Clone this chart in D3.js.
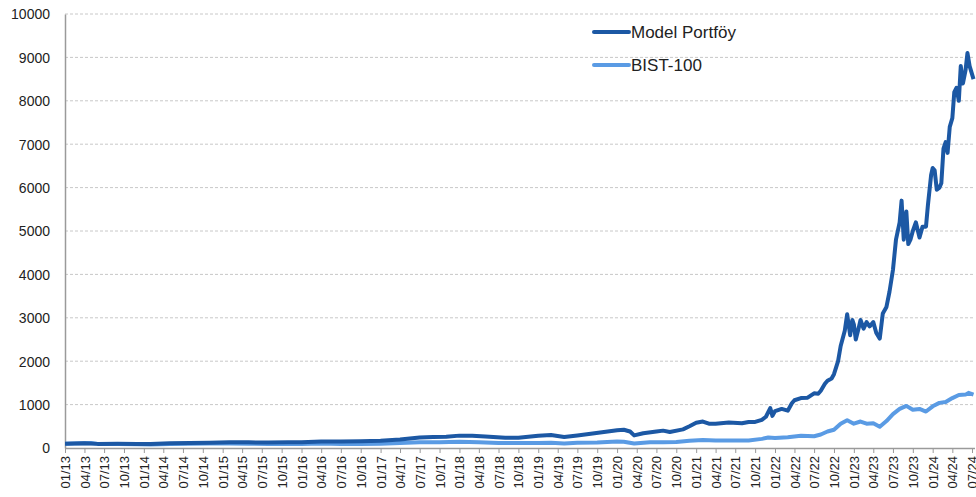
<!DOCTYPE html>
<html>
<head>
<meta charset="utf-8">
<script src="https://cdn.jsdelivr.net/npm/d3@7"></script>
<style>
  body { margin: 0; background: #fff; }
  text { font-family: "Liberation Sans", Arial, sans-serif; fill: #222; }
</style>
</head>
<body>
<div id="main"></div>
<script>
  // model portfolio
  var modelDates = ["2013-01-01","2013-04-01","2013-06-01","2013-09-01","2013-12-01","2014-02-01","2014-05-01","2014-08-01","2014-11-01",
    "2015-02-01","2015-05-01","2015-08-01","2015-11-01","2016-01-01","2016-04-01","2016-07-01","2016-10-01","2017-01-01","2017-04-01",
    "2017-07-01","2017-09-01","2017-11-01","2018-01-01","2018-03-01","2018-05-01","2018-08-01","2018-10-01","2019-01-01","2019-03-01",
    "2019-05-01","2019-07-01","2019-09-01","2019-11-01","2020-01-01","2020-02-01","2020-03-01","2020-03-20","2020-05-01","2020-07-01",
    "2020-08-01","2020-09-01","2020-11-01","2020-12-01","2021-01-01","2021-02-01","2021-03-01","2021-04-01","2021-06-01","2021-08-01",
    "2021-09-01","2021-10-01","2021-11-01","2021-11-20","2021-12-10","2021-12-20","2022-01-01","2022-02-01","2022-03-01","2022-03-20",
    "2022-04-01","2022-05-01","2022-06-01","2022-07-01","2022-07-20","2022-08-01","2022-08-20","2022-09-01","2022-09-20","2022-10-01",
    "2022-10-20","2022-11-01","2022-11-20","2022-12-01","2022-12-15","2022-12-25","2023-01-01","2023-01-10","2023-01-25","2023-02-01",
    "2023-02-15","2023-03-01","2023-03-15","2023-04-01","2023-04-15","2023-05-01","2023-05-15","2023-06-01","2023-06-15","2023-07-01",
    "2023-07-15","2023-08-01","2023-08-10","2023-08-20","2023-09-01","2023-09-10","2023-09-20","2023-10-01","2023-10-15","2023-11-01",
    "2023-11-15","2023-12-01","2023-12-10","2023-12-25","2024-01-01","2024-01-10","2024-01-20","2024-02-01","2024-02-10","2024-02-20",
    "2024-03-01","2024-03-10","2024-03-20","2024-04-01","2024-04-10","2024-04-20","2024-05-01","2024-05-10","2024-05-20","2024-06-01",
    "2024-06-10","2024-06-20","2024-07-08"];
  var modelValues = [100,110,95,100,95,90,110,115,120,
    135,130,125,135,130,150,150,155,165,195,
    240,255,260,285,280,265,235,235,280,300,
    255,290,330,370,410,420,380,290,340,380,
    400,370,430,500,580,610,560,560,590,570,
    600,600,650,720,920,740,850,900,860,1030,
    1100,1150,1160,1260,1250,1320,1480,1550,1600,1700,
    2000,2350,2700,3080,2600,2950,2850,2500,2800,2950,
    2750,2900,2800,2900,2650,2520,3100,3250,3600,4100,
    4800,5200,5700,4800,5450,4700,4800,5000,5200,4850,
    5100,5100,5600,6300,6450,6400,5950,6000,6100,6900,
    7050,6800,7400,7600,8200,8300,8000,8800,8400,8700,
    9100,8800,8500];

  // BIST-100, same base
  var bistDates = ["2013-01-01","2013-05-01","2013-06-01","2013-09-01","2013-12-01","2014-02-01","2014-05-01","2014-08-01","2014-11-01",
    "2015-02-01","2015-05-01","2015-08-01","2015-11-01","2016-01-01","2016-04-01","2016-07-01","2016-10-01","2017-01-01","2017-04-01",
    "2017-07-01","2017-10-01","2018-01-01","2018-04-01","2018-07-01","2018-09-01","2019-01-01","2019-03-01","2019-05-01","2019-07-01",
    "2019-10-01","2020-01-01","2020-02-01","2020-03-20","2020-06-01","2020-08-01","2020-10-01","2020-12-01","2021-02-01","2021-04-01",
    "2021-07-01","2021-09-01","2021-11-01","2021-12-01","2022-01-01","2022-03-01","2022-05-01","2022-07-01","2022-08-01","2022-09-01",
    "2022-10-01","2022-11-01","2022-12-01","2023-01-01","2023-02-01","2023-03-01","2023-04-01","2023-05-01","2023-06-01","2023-07-01",
    "2023-08-01","2023-09-01","2023-10-01","2023-11-01","2023-12-01","2024-01-01","2024-02-01","2024-03-01","2024-04-01","2024-05-01",
    "2024-06-01","2024-06-15","2024-07-08"];
  var bistValues = [100,115,95,90,85,80,95,100,105,
    105,100,95,95,90,105,95,95,100,115,
    130,135,145,130,115,115,115,120,105,120,
    125,150,145,105,130,135,140,165,185,170,
    175,175,210,240,230,250,280,270,310,380,
    420,560,640,560,610,560,570,490,620,780,
    900,970,880,900,840,960,1040,1060,1150,1220,
    1230,1270,1230];

  var yTicks = [0,1000,2000,3000,4000,5000,6000,7000,8000,9000,10000];
  var seriesNames = ["Model Portföy", "BIST-100"];
  var seriesColors = ["#1c58a4", "#5a9be4"];

  var parse = d3.timeParse("%Y-%m-%d");

  var svg = d3.select("#main")
              .append("svg")
              .attr("width", 976)
              .attr("height", 497);

  var x = d3.scaleTime()
      .domain([parse("2013-01-01"), parse("2024-07-01")])
      .range([65, 972]);
  var y = d3.scaleLinear()
      .domain([0, 10000])
      .range([448, 14]);

  // gridlines
  svg.append("g")
      .selectAll("line")
      .data(yTicks.slice(1))
      .join("line")
      .attr("x1", 65)
      .attr("x2", 975)
      .attr("y1", d => y(d))
      .attr("y2", d => y(d))
      .attr("stroke", "#c8c8c8")
      .attr("stroke-dasharray", "3,2");

  // y axis
  var yAxis = svg.append("g")
      .attr("transform", "translate(65,0)")
      .call(d3.axisLeft(y).tickValues(yTicks).tickSize(0).tickPadding(15).tickFormat(d3.format("d")));
  yAxis.select(".domain").attr("stroke", "#9a9a9a").attr("stroke-width", 1.5);
  yAxis.selectAll("text").style("font-size", "14px").attr("dy", "0.35em");

  // x axis
  var quarters = d3.timeMonth.every(3).range(parse("2013-01-01"), parse("2024-07-02"));
  var xAxis = svg.append("g")
      .attr("transform", "translate(0,448)")
      .call(d3.axisBottom(x).tickValues(quarters).tickSize(5).tickFormat(d3.timeFormat("%m/%y")));
  xAxis.select(".domain").attr("stroke", "#9a9a9a").attr("stroke-width", 1.5)
      .attr("d", "M65,0.5H975");
  xAxis.selectAll(".tick line").attr("stroke", "#9a9a9a");
  xAxis.selectAll("text")
      .style("font-size", "13px")
      .attr("text-anchor", "end")
      .attr("transform", "rotate(-90)")
      .attr("x", -8)
      .attr("y", 0)
      .attr("dy", "0.35em");

  // lines
  var line = d3.line()
      .x(d => x(d[0]))
      .y(d => y(d[1]));

  var series = [
    d3.zip(modelDates.map(parse), modelValues),
    d3.zip(bistDates.map(parse), bistValues)
  ];

  svg.append("path")
      .datum(series[1])
      .attr("d", line)
      .attr("fill", "none")
      .attr("stroke", seriesColors[1])
      .attr("stroke-width", 4)
      .attr("stroke-linejoin", "round");
  svg.append("path")
      .datum(series[0])
      .attr("d", line)
      .attr("fill", "none")
      .attr("stroke", seriesColors[0])
      .attr("stroke-width", 4)
      .attr("stroke-linejoin", "round");

  // legend
  var legend = svg.append("g")
      .selectAll("g")
      .data(seriesNames)
      .join("g")
      .attr("transform", (d, i) => "translate(594," + (32 + i * 33) + ")");
  legend.append("line")
      .attr("x1", 0)
      .attr("x2", 35)
      .attr("stroke", (d, i) => seriesColors[i])
      .attr("stroke-width", 4)
      .attr("stroke-linecap", "round");
  legend.append("text")
      .attr("x", 37)
      .attr("dy", "0.35em")
      .style("font-size", "17px")
      .text(d => d);
</script>
</body>
</html>
